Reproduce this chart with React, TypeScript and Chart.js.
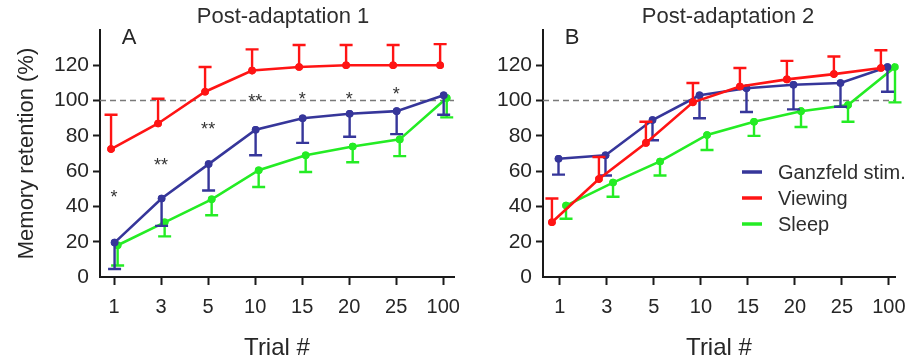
import React, { useEffect, useRef } from 'react';
import { Chart, registerables } from 'chart.js';

Chart.register(...registerables);

// ---------- data ----------
const TRIALS = ['1', '3', '5', '10', '15', '20', '25', '100'];
const SERIES = ['Ganzfeld stim.', 'Viewing', 'Sleep'];
const Y_TICKS = [0, 20, 40, 60, 80, 100, 120];

// Panel A (Post-adaptation 1)
const A_GANZ = [19.5, 44.5, 64, 83.5, 90, 92.5, 94, 103];
const A_GANZ_ERR = [4.5, 29, 49, 69, 76, 79.5, 81, 92]; // lower ends
const A_VIEW = [72.5, 87, 105, 117, 119, 120, 120, 120];
const A_VIEW_ERR = [92, 101, 119, 129, 131.5, 131.5, 131.5, 132]; // upper ends
const A_SLEEP = [18, 31, 44, 60.5, 69, 74, 78, 101.5];
const A_SLEEP_ERR = [6.5, 23, 35, 51, 59.5, 65, 68.5, 90.5]; // lower ends
const A_SIG = ['*', '**', '**', '**', '*', '*', '*', ''];
const A_SIG_Y = [48, 66, 86.5, 102, 103.5, 103.5, 106, 0];

// Panel B (Post-adaptation 2)
const B_GANZ = [67, 69, 89, 103, 107, 109, 110, 119];
const B_GANZ_ERR = [58, 57.5, 77.5, 90, 93.5, 95, 96.5, 105];
const B_VIEW = [31, 55.5, 76, 99, 108, 112, 115, 118.5];
const B_VIEW_ERR = [44.5, 68, 88, 110, 118.5, 122.5, 125, 128.5];
const B_SLEEP = [40.5, 53.5, 65.5, 80.5, 88, 94, 97.5, 119];
const B_SLEEP_ERR = [33, 45.5, 57.5, 72, 80, 85, 88, 99];

// ---------- styles ----------
const FONT = '"Liberation Sans", Arial, Helvetica, sans-serif';
const TEXT = '#262626';
const AXIS = '#1a1a1a';
const BLUE = '#36369a';
const RED = '#ff1414';
const GREEN = '#24ec24';

type Panel = {
  title: string;
  letter: string;
  ganz: number[]; ganzErr: number[];
  view: number[]; viewErr: number[];
  sleep: number[]; sleepErr: number[];
  sig: string[]; sigY: number[];
  dodge: number[];
  xMin: number; xMax: number;
  yWidth: number;
  padRight: number;
  yTitle: boolean;
  legend: boolean;
  titleX: number;
  letterX: number;
  width: number;
};

const PANEL_A: Panel = {
  title: 'Post-adaptation 1', letter: 'A',
  ganz: A_GANZ, ganzErr: A_GANZ_ERR, view: A_VIEW, viewErr: A_VIEW_ERR,
  sleep: A_SLEEP, sleepErr: A_SLEEP_ERR, sig: A_SIG, sigY: A_SIG_Y,
  dodge: [0.01, -0.065, 0.075], xMin: -0.3, xMax: 7.23,
  yWidth: 100, padRight: 6, yTitle: true, legend: false,
  titleX: 283, letterX: 129, width: 460,
};

const PANEL_B: Panel = {
  title: 'Post-adaptation 2', letter: 'B',
  ganz: B_GANZ, ganzErr: B_GANZ_ERR, view: B_VIEW, viewErr: B_VIEW_ERR,
  sleep: B_SLEEP, sleepErr: B_SLEEP_ERR, sig: [], sigY: [],
  dodge: [-0.03, -0.17, 0.13], xMin: -0.36, xMax: 7.13,
  yWidth: 83, padRight: 20, yTitle: false, legend: true,
  titleX: 268, letterX: 112, width: 455,
};

function makeConfig(p: Panel): any {
  const series = [
    { label: SERIES[0], values: p.ganz, err: p.ganzErr, color: BLUE, off: p.dodge[0], order: 1 },
    { label: SERIES[1], values: p.view, err: p.viewErr, color: RED, off: p.dodge[1], order: 0 },
    { label: SERIES[2], values: p.sleep, err: p.sleepErr, color: GREEN, off: p.dodge[2], order: 2 },
  ];

  const datasets = series.map((s) => ({
    label: s.label,
    data: s.values.map((v, i) => ({ x: i + s.off, y: v })),
    errEnd: s.err,
    borderColor: s.color,
    backgroundColor: s.color,
    pointBackgroundColor: s.color,
    pointBorderColor: s.color,
    pointRadius: 3.8,
    pointBorderWidth: 0,
    borderWidth: 2.6,
    tension: 0,
    order: s.order,
  }));

  const panelPlugin = {
    id: 'panelDeco' + p.letter,
    beforeDatasetsDraw(chart: any) {
      const { ctx, chartArea, scales } = chart;
      const y = scales.y.getPixelForValue(100);
      ctx.save();
      ctx.strokeStyle = '#7a7a7a';
      ctx.lineWidth = 1.5;
      ctx.setLineDash([6, 4]);
      ctx.beginPath();
      ctx.moveTo(chartArea.left, y);
      ctx.lineTo(chartArea.right, y);
      ctx.stroke();
      ctx.restore();
    },
    afterDatasetDraw(chart: any, args: any) {
      const { ctx, scales } = chart;
      const ds = chart.data.datasets[args.index];
      const meta = args.meta;
      ctx.save();
      ctx.strokeStyle = ds.borderColor;
      ctx.lineWidth = 2.4;
      ctx.setLineDash([]);
      meta.data.forEach((el: any, i: number) => {
        const yEnd = scales.y.getPixelForValue(ds.errEnd[i]);
        ctx.beginPath();
        ctx.moveTo(el.x, el.y);
        ctx.lineTo(el.x, yEnd);
        ctx.moveTo(el.x - 6.5, yEnd);
        ctx.lineTo(el.x + 6.5, yEnd);
        ctx.stroke();
      });
      ctx.fillStyle = ds.borderColor;
      meta.data.forEach((el: any) => {
        ctx.beginPath();
        ctx.arc(el.x, el.y, 3.8, 0, Math.PI * 2);
        ctx.fill();
      });
      ctx.restore();
    },
    afterDraw(chart: any) {
      const { ctx, scales } = chart;
      ctx.save();
      ctx.fillStyle = '#2e2e2e';
      ctx.textAlign = 'center';
      ctx.textBaseline = 'middle';
      ctx.font = `22px ${FONT}`;
      ctx.fillText(p.title, p.titleX, 17);
      ctx.fillStyle = TEXT;
      ctx.font = `22px ${FONT}`;
      ctx.fillText(p.letter, p.letterX, 38);

      const fs = 18;
      ctx.font = `${fs}px ${FONT}`;
      ctx.fillStyle = '#333';
      ctx.textBaseline = 'alphabetic';
      p.sig.forEach((s, i) => {
        if (!s) return;
        const x = scales.x.getPixelForValue(i);
        const y = scales.y.getPixelForValue(p.sigY[i]);
        ctx.fillText(s, x, y + 0.58 * fs);
      });

      if (p.legend) {
        const lx = 282;
        const ly = 172;
        const rowH = 26;
        ctx.textAlign = 'left';
        ctx.textBaseline = 'middle';
        ctx.font = `20px ${FONT}`;
        series.forEach((s, i) => {
          const y = ly + i * rowH;
          ctx.strokeStyle = s.color;
          ctx.lineWidth = 3.5;
          ctx.beginPath();
          ctx.moveTo(lx, y);
          ctx.lineTo(lx + 20, y);
          ctx.stroke();
          ctx.fillStyle = '#2e2e2e';
          ctx.fillText(s.label, lx + 36, y + 1);
        });
      }
      ctx.restore();
    },
  };

  return {
    type: 'line',
    data: { datasets },
    plugins: [panelPlugin],
    options: {
      responsive: false,
      animation: false,
      devicePixelRatio: 1,
      layout: { padding: { left: 0, right: p.padRight, top: 30, bottom: 0 } },
      plugins: {
        legend: { display: false },
        title: { display: false },
        tooltip: { enabled: false },
      },
      scales: {
        x: {
          type: 'linear',
          min: p.xMin,
          max: p.xMax,
          afterBuildTicks: (s: any) => {
            s.ticks = TRIALS.map((_, i) => ({ value: i }));
          },
          afterFit: (s: any) => {
            s.height = 87;
            s.paddingLeft = 0;
            s.paddingRight = 0;
          },
          border: { display: true, color: AXIS, width: 2 },
          grid: {
            drawOnChartArea: false,
            drawTicks: true,
            tickLength: 8,
            tickColor: AXIS,
            tickWidth: 2,
          },
          ticks: {
            autoSkip: false,
            maxRotation: 0,
            padding: 10,
            color: TEXT,
            font: { family: FONT, size: 20 },
            callback: (v: number) => TRIALS[Math.round(v)],
          },
          title: {
            display: true,
            text: 'Trial #',
            color: TEXT,
            font: { family: FONT, size: 24 },
            padding: { top: 0, bottom: 1 },
          },
        },
        y: {
          type: 'linear',
          min: 0,
          max: 140,
          afterBuildTicks: (s: any) => {
            s.ticks = Y_TICKS.map((v) => ({ value: v }));
          },
          afterFit: (s: any) => {
            s.width = p.yWidth;
            s.paddingTop = 0;
            s.paddingBottom = 0;
          },
          border: { display: true, color: AXIS, width: 2 },
          grid: {
            drawOnChartArea: false,
            drawTicks: true,
            tickLength: 7,
            tickWidth: 2,
            tickColor: (c: any) => (c.tick && c.tick.value === 0 ? 'rgba(0,0,0,0)' : AXIS),
          },
          ticks: {
            padding: 4,
            color: TEXT,
            font: { family: FONT, size: 21 },
          },
          title: {
            display: p.yTitle,
            text: 'Memory retention (%)',
            color: TEXT,
            font: { family: FONT, size: 22 },
            padding: { top: 14, bottom: 0 },
          },
        },
      },
    },
  };
}

function PanelChart({ panel, left }: { panel: Panel; left: number }) {
  const ref = useRef<HTMLCanvasElement | null>(null);
  useEffect(() => {
    if (!ref.current) return;
    const chart = new Chart(ref.current, makeConfig(panel));
    return () => chart.destroy();
  }, [panel]);
  return (
    <canvas
      ref={ref}
      width={panel.width}
      height={364}
      style={{ position: 'absolute', left, top: 0, width: panel.width, height: 364 }}
    />
  );
}

export default function App() {
  return (
    <div style={{ position: 'absolute', left: 0, top: 0, width: 915, height: 364, background: '#fff' }}>
      <PanelChart panel={PANEL_A} left={0} />
      <PanelChart panel={PANEL_B} left={460} />
    </div>
  );
}
